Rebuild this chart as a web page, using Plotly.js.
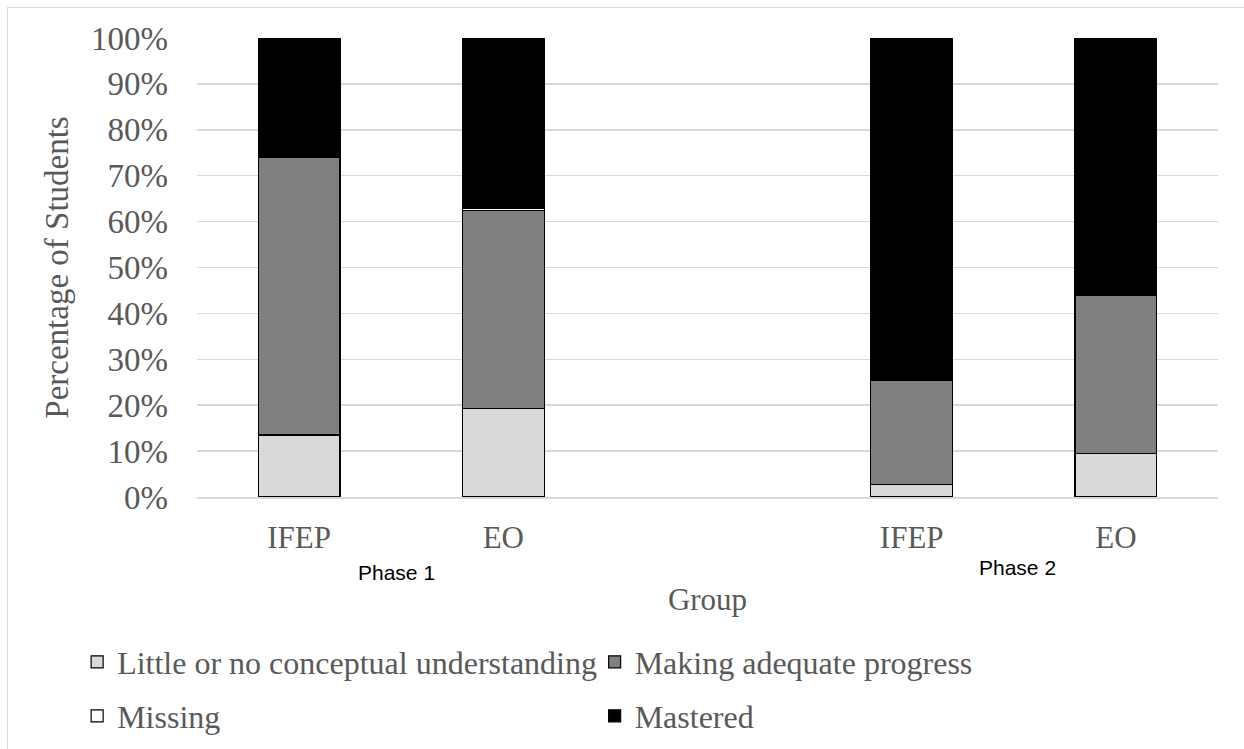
<!DOCTYPE html>
<html>
<head>
<meta charset="utf-8">
<script src="https://cdn.plot.ly/plotly-3.0.1.min.js"></script>
<style>
  html, body { margin: 0; padding: 0; background: #fff; }
  #wrap { position: relative; width: 1244px; height: 749px; }
  #chart { width: 1244px; height: 749px; }
  #frame { position: absolute; left: 7px; top: 7px; width: 1300px; height: 800px;
           border-left: 1.5px solid #d9d9d9; border-top: 1.5px solid #d9d9d9; pointer-events: none; }
</style>
</head>
<body>
<div id="wrap">
  <div id="chart"></div>
  <div id="frame"></div>
</div>
<script>
// Categories (an empty slot separates the two phases)
const categories = ['Phase 1 IFEP', 'Phase 1 EO', 'gap', 'Phase 2 IFEP', 'Phase 2 EO'];
const tickLabels = ['IFEP', 'EO', '', 'IFEP', 'EO'];

// Y axis ticks
const yTickValues = [0, 10, 20, 30, 40, 50, 60, 70, 80, 90, 100];
const yTickLabels = ['0%', '10%', '20%', '30%', '40%', '50%', '60%', '70%', '80%', '90%', '100%'];

// Series values (percent of students)
const littleUnderstanding = [13.5, 19.3, null, 2.7, 9.4];
const makingProgress      = [60.4, 43.2, null, 22.6, 34.6];
const missing             = [0.0, 0.4, null, 0.0, 0.4];
const mastered            = [26.1, 37.1, null, 74.7, 55.6];

const groupLabels = ['Phase 1', 'Phase 2'];

const serif = 'Liberation Serif, Times New Roman, serif';
const grey = '#595959';

function barTrace(name, values, color, legend) {
  return {
    type: 'bar', name: name, x: categories, y: values,
    marker: { color: color, line: { color: '#000000', width: 1.2 } },
    width: 0.4, legend: legend, hoverinfo: 'x+y+name'
  };
}

// one legend per cell of the 2 x 2 legend grid
const data = [
  barTrace('Little or no conceptual understanding', littleUnderstanding, '#d9d9d9', 'legend'),
  barTrace('Making adequate progress', makingProgress, '#7f7f7f', 'legend2'),
  barTrace('Missing', missing, '#ffffff', 'legend3'),
  barTrace('Mastered', mastered, '#000000', 'legend4')
];

function legendBox(x, yPx) {
  return {
    orientation: 'h', xref: 'container', yref: 'container',
    x: x, xanchor: 'left', y: 1 - yPx / 749, yanchor: 'middle',
    font: { family: serif, size: 32, color: grey },
    bgcolor: 'rgba(0,0,0,0)', itemclick: false, itemdoubleclick: false
  };
}

const layout = {
  width: 1244, height: 749,
  margin: { l: 197, r: 26, t: 38, b: 252 },
  paper_bgcolor: '#ffffff', plot_bgcolor: '#ffffff',
  barmode: 'stack',
  font: { family: serif, color: grey, size: 32 },
  xaxis: {
    type: 'category', categoryorder: 'array', categoryarray: categories,
    tickmode: 'array', tickvals: categories, ticktext: tickLabels,
    range: [-0.5, 4.5],
    showgrid: false, zeroline: false, showline: true, linecolor: '#d9d9d9', linewidth: 1.5,
    ticks: '', ticklabelstandoff: 12,
    tickfont: { family: serif, size: 31, color: grey },
    title: { text: 'Group', font: { family: serif, size: 31, color: grey }, standoff: 34 }
  },
  yaxis: {
    range: [0, 100], tickmode: 'array', tickvals: yTickValues, ticktext: yTickLabels,
    showgrid: true, gridcolor: '#d9d9d9', gridwidth: 1.5,
    zeroline: false, showline: false, ticks: '', ticklabelstandoff: 28,
    tickfont: { family: serif, size: 33, color: grey },
    title: { text: 'Percentage of Students', font: { family: serif, size: 33, color: grey }, standoff: 12 }
  },
  showlegend: true,
  legend: legendBox(0.062, 662),
  legend2: legendBox(0.478, 662),
  legend3: legendBox(0.062, 716),
  legend4: legendBox(0.478, 716),
  annotations: [
    { text: groupLabels[0], xref: 'paper', yref: 'paper', x: (396-197)/1021, y: -(572-497)/459,
      showarrow: false, xanchor: 'center', yanchor: 'middle',
      font: { family: 'Liberation Sans, Arial, sans-serif', size: 21, color: '#000000' } },
    { text: groupLabels[1], xref: 'paper', yref: 'paper', x: (1017-197)/1021, y: -(567-497)/459,
      showarrow: false, xanchor: 'center', yanchor: 'middle',
      font: { family: 'Liberation Sans, Arial, sans-serif', size: 21, color: '#000000' } }
  ]
};

Plotly.newPlot('chart', data, layout, { displayModeBar: false, staticPlot: true });
</script>
</body>
</html>
